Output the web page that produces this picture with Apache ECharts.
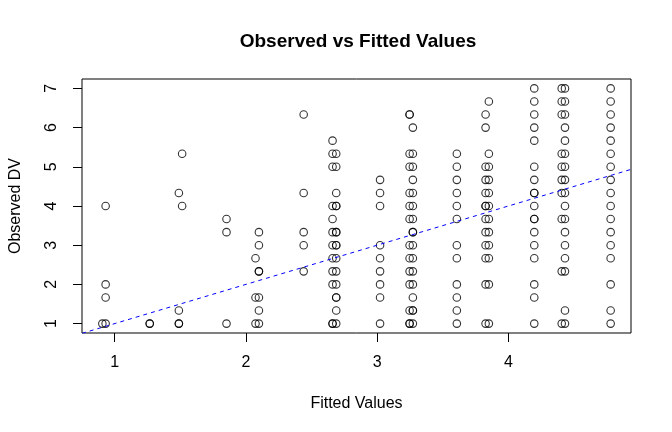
<!DOCTYPE html>
<html>
<head>
<meta charset="utf-8">
<script src="https://cdn.jsdelivr.net/npm/echarts@6/dist/echarts.min.js"></script>
<style>html,body{margin:0;padding:0;background:#fff}#c{width:672px;height:432px}</style>
</head>
<body>
<div id="c"></div>
<script>
// Fitted value levels (x) and observed DV values (y) at each level
const fittedLevels = [0.906, 0.931, 1.267, 1.489, 1.514, 1.852, 2.073, 2.099, 2.44, 2.66, 2.688, 3.022, 3.247, 3.272, 3.607, 3.826, 3.851, 4.197, 4.406, 4.431, 4.779];
const obsA1 = [1];
const obsA2 = [1, 1.667, 2, 4];
const obsB  = [1, 1];
const obsC1 = [1, 1, 1.333, 4.333];
const obsC2 = [4, 5.333];
const obsD  = [1, 3.333, 3.667];
const obsE1 = [1, 1.667, 2.667];
const obsE2 = [1, 1.333, 1.667, 2.333, 2.333, 3, 3.333];
const obsF  = [2.333, 3, 3.333, 4.333, 6.333];
const obsG1 = [1, 1, 2, 2.333, 2.667, 3, 3.333, 3.667, 4, 5, 5.333, 5.667];
const obsG2 = [1, 1.333, 1.667, 1.667, 2, 2.333, 2.667, 3, 3, 3.333, 3.333, 4, 4, 4.333, 5, 5.333];
const obsH  = [1, 1.667, 2, 2.333, 2.667, 3, 4, 4.333, 4.667];
const obsI1 = [1, 1, 1.333, 2, 2.333, 2.667, 3, 3.667, 4, 4.333, 5, 5.333, 6.333, 6.333];
const obsI2 = [1, 1.333, 1.333, 1.667, 2, 2.333, 2.667, 3, 3.333, 3.333, 3.667, 4, 4.333, 4.667, 5, 5.333, 6];
const obsJ  = [1, 1.333, 1.667, 2, 2.667, 3, 3.667, 4, 4.333, 4.667, 5, 5.333];
const obsK1 = [1, 2, 2.667, 3, 3.333, 3.667, 4, 4, 4.333, 4.667, 5, 6, 6.333];
const obsK2 = [1, 2, 2.667, 3, 3.333, 3.667, 4, 4.333, 4.667, 5, 5.333, 6.667];
const obsL  = [1, 1.667, 2, 2.667, 3, 3.333, 3.667, 3.667, 4, 4.333, 4.333, 4.667, 5, 5.667, 6, 6.333, 6.667, 7];
const obsM1 = [1, 2.333, 3.667, 4.333, 4.667, 5, 5.333, 6.333, 6.667, 7];
const obsM2 = [1, 1.333, 2.333, 2.667, 3, 3.333, 3.667, 4, 4.333, 4.667, 5, 5.333, 5.667, 6, 6.333, 6.667, 7];
const obsN  = [1, 1.333, 2, 2.667, 3, 3.333, 3.667, 4, 4.333, 4.667, 5, 5.333, 5.667, 6, 6.333, 6.667, 7];
const observedByLevel = [obsA1, obsA2, obsB, obsC1, obsC2, obsD, obsE1, obsE2, obsF, obsG1, obsG2, obsH, obsI1, obsI2, obsJ, obsK1, obsK2, obsL, obsM1, obsM2, obsN];

const xTicks = [1, 2, 3, 4];
const yTicks = [1, 2, 3, 4, 5, 6, 7];
const refIntercept = 0, refSlope = 1;   // abline(0, 1)

const xMin = 0.751, xMax = 4.934, yMin = 0.76, yMax = 7.24;

const points = [];
fittedLevels.forEach((x, i) => observedByLevel[i].forEach(y => points.push([x, y])));
const linePts = [[xMin, refIntercept + refSlope * xMin], [xMax, refIntercept + refSlope * xMax]];

const FONT = '"Liberation Sans", Arial, Helvetica, sans-serif';
const chart = echarts.init(document.getElementById('c'), null, {renderer: 'canvas'});
chart.setOption({
  animation: false,
  backgroundColor: '#fff',
  title: {
    text: 'Observed vs Fitted Values',
    left: 353, top: 27, textAlign: 'center',
    textStyle: {fontFamily: FONT, fontSize: 19, fontWeight: 'bold', color: '#000'}
  },
  grid: {left: 79, right: 41, top: 79, bottom: 99, show: true, borderColor: '#000', borderWidth: 1, backgroundColor: 'transparent'},
  xAxis: {
    type: 'value', min: xMin, max: xMax,
    name: 'Fitted Values', nameLocation: 'middle', nameGap: 63,
    nameTextStyle: {fontFamily: FONT, fontSize: 16, color: '#000'},
    axisLine: {show: false},
    axisTick: {show: true, length: 9, customValues: xTicks, lineStyle: {color: '#000', width: 1}},
    axisLabel: {customValues: xTicks, margin: 22, fontFamily: FONT, fontSize: 16, color: '#000'},
    splitLine: {show: false}
  },
  yAxis: {
    type: 'value', min: yMin, max: yMax,
    name: 'Observed DV', nameLocation: 'middle', nameGap: 58, nameRotate: 90,
    nameTextStyle: {fontFamily: FONT, fontSize: 16, color: '#000'},
    axisLine: {show: false},
    axisTick: {show: true, length: 9, customValues: yTicks, lineStyle: {color: '#000', width: 1}},
    axisLabel: {customValues: yTicks, rotate: 90, margin: 22, fontFamily: FONT, fontSize: 16, color: '#000'},
    splitLine: {show: false}
  },
  series: [
    {
      type: 'scatter', data: points, symbol: 'circle', symbolSize: 7.5,
      itemStyle: {color: 'rgba(0,0,0,0)', borderColor: '#000', borderWidth: 1.1},
      emphasis: {disabled: true}
    },
    {
      type: 'line', data: linePts, symbol: 'none', clip: true,
      lineStyle: {color: '#0000ff', width: 1, type: [4, 4]},
      z: 3
    }
  ]
});
</script>
</body>
</html>
